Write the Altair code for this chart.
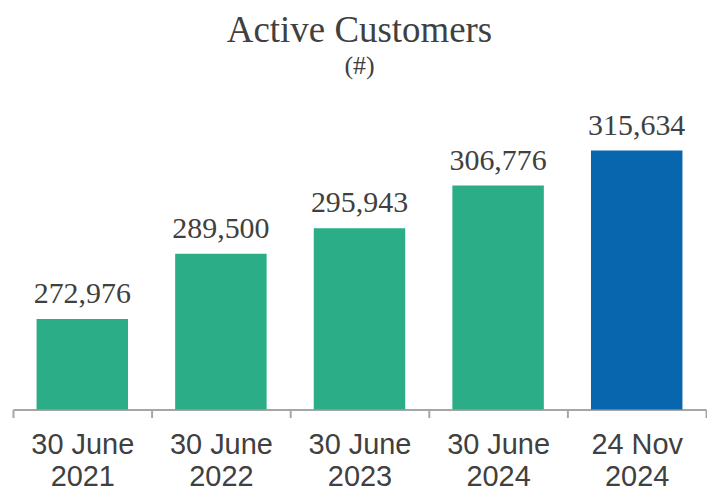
import altair as alt
import pandas as pd

categories = ["30 June\n2021", "30 June\n2022", "30 June\n2023", "30 June\n2024", "24 Nov\n2024"]
values = [272976, 289500, 295943, 306776, 315634]
labels = ["272,976", "289,500", "295,943", "306,776", "315,634"]
groups = ["fy", "fy", "fy", "fy", "latest"]

df = pd.DataFrame({"cat": categories, "value": values, "label": labels, "group": groups})

x = alt.X("cat:N", sort=None, title=None,
          scale=alt.Scale(paddingInner=0, paddingOuter=0),
          axis=alt.Axis(labelExpr="split(datum.label, '\\n')", labelAngle=0,
                        labelFont="Liberation Sans", labelFontSize=29, labelColor="#404040",
                        labelLineHeight=32, labelPadding=13,
                        domainColor="#A6A6A6", domainWidth=2,
                        tickColor="#A6A6A6", tickWidth=2, tickSize=8, tickBand="extent"))
y = alt.Y("value:Q", title=None, axis=None,
          scale=alt.Scale(domain=[250000, 320000], zero=False, nice=False))

bars = alt.Chart(df).mark_bar(clip=True, width=alt.RelativeBandSize(0.66)).encode(
    x=x, y=y,
    color=alt.Color("group:N", legend=None,
                    scale=alt.Scale(domain=["fy", "latest"], range=["#2BAE87", "#0866AF"])))

text = alt.Chart(df).mark_text(font="Liberation Serif", fontSize=30, color="#404040",
                               baseline="alphabetic", dy=-16).encode(
    x=x, y=y, text="label:N")

chart = alt.layer(bars, text).properties(
    width=695, height=277,
    padding={"left": 4, "top": 3, "right": 0, "bottom": 0},
    title=alt.TitleParams(text="Active Customers", subtitle="(#)",
                          font="Liberation Serif", fontSize=37, fontWeight="normal", color="#404040",
                          subtitleFont="Liberation Serif", subtitleFontSize=26, subtitleColor="#404040",
                          subtitlePadding=3, anchor="middle", frame="group", offset=31)
).configure_view(stroke=None)

chart.save("out.html", embed_options={"renderer": "svg", "actions": False})
